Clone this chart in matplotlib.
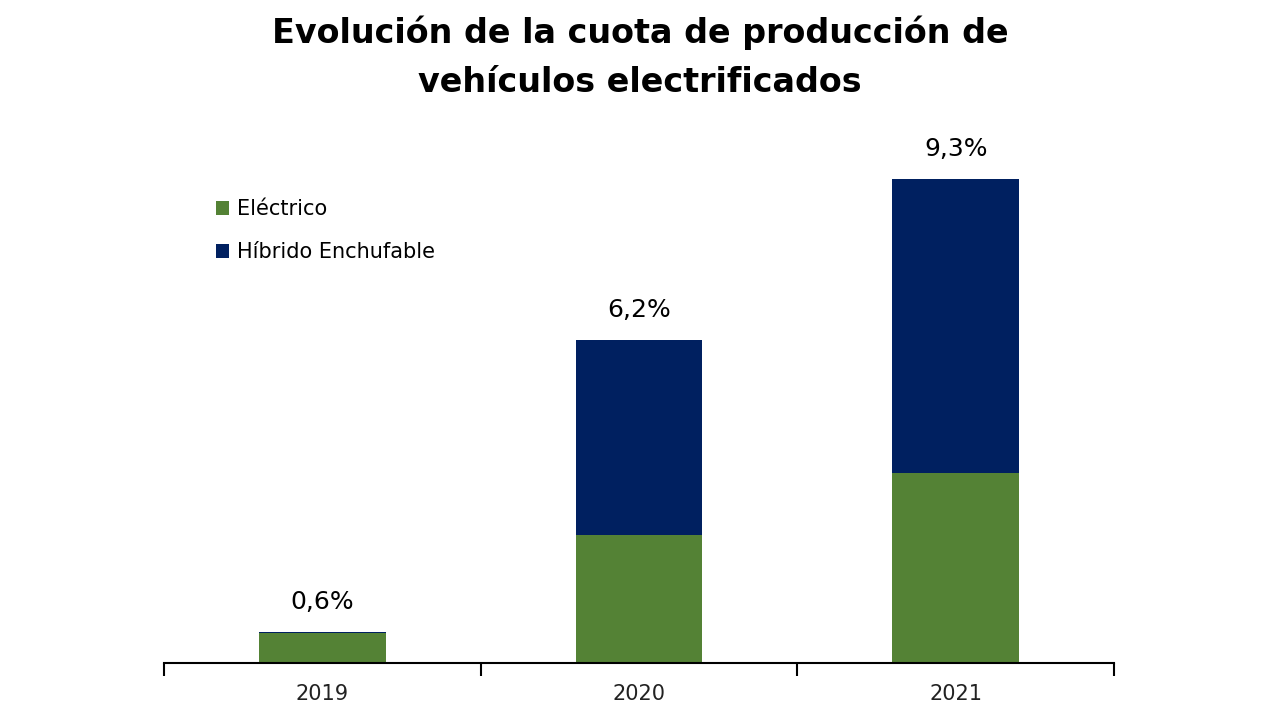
import numpy as np
import matplotlib.pyplot as plt

years = ["2019", "2020", "2021"]
electrico = [0.58, 2.46, 3.65]
hibrido = [0.02, 3.74, 5.65]
totales = ["0,6%", "6,2%", "9,3%"]

verde = "#548235"
azul = "#002060"

fig = plt.figure(figsize=(12.8, 7.2), dpi=100)
ax = fig.add_axes([164/1280, 57/720, 950/1280, 533/720])

x = np.arange(len(years))
ax.bar(x, electrico, width=0.4, color=verde, label="Eléctrico")
ax.bar(x, hibrido, width=0.4, bottom=electrico, color=azul, label="Híbrido Enchufable")

for xi, e, h, t in zip(x, electrico, hibrido, totales):
    ax.text(xi, e + h + 0.35, t, ha="center", va="bottom", fontsize=18, color="black")

ax.set_xlim(-0.5, 2.5)
ax.set_ylim(0, 10.24)
ax.set_xticks(np.arange(-0.5, 3, 1))
ax.set_xticklabels([])
ax.tick_params(axis="x", which="major", length=9, width=1.5, direction="out")
ax.set_xticks(x, minor=True)
ax.set_xticklabels(years, minor=True, fontsize=15, color="#222222")
ax.tick_params(axis="x", which="minor", length=0, pad=15)
ax.set_yticks([])
for s in ["top", "right", "left"]:
    ax.spines[s].set_visible(False)
ax.spines["bottom"].set_linewidth(1.5)

ax.legend(loc="upper left", bbox_to_anchor=(0.035, 0.905), frameon=False,
          fontsize=15, handlelength=0.6, handleheight=0.6, handletextpad=0.4,
          labelspacing=1.1)

fig.text(0.5, 0.978, "Evolución de la cuota de producción de\nvehículos electrificados",
         ha="center", va="top", fontsize=24, fontweight="bold", linespacing=1.6)

fig.savefig("out.png")
